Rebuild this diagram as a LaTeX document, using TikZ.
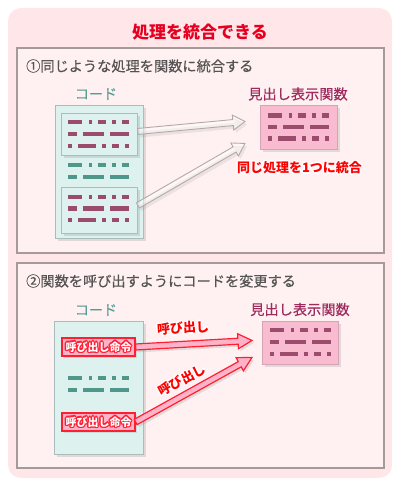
\documentclass[tikz,border=0pt]{standalone}
\usepackage{fontspec}
\setmainfont{Noto Sans CJK JP}
\newfontfamily\jpmed{Noto Sans CJK JP}[FakeBold=0.35]
\usetikzlibrary{calc,shadows}
\definecolor{outerbg}{HTML}{FFE6E9}
\definecolor{panelbg}{HTML}{FFF1F1}
\definecolor{panelborder}{HTML}{A59A9A}
\definecolor{titlered}{HTML}{E60020}
\definecolor{headgray}{HTML}{555353}
\definecolor{tealtext}{HTML}{5A9C94}
\definecolor{codebg}{HTML}{DDF1EF}
\definecolor{codeborder}{HTML}{A9BDBA}
\definecolor{maroon}{HTML}{9B4C6D}
\definecolor{tealdash}{HTML}{4F968B}
\definecolor{funcbg}{HTML}{F8BBD0}
\definecolor{funcborder}{HTML}{D7A3B6}
\definecolor{functitle}{HTML}{9E2B5E}
\definecolor{callfill}{HTML}{FFB3C8}
\definecolor{callred}{HTML}{FF1F33}
\definecolor{ghostline}{HTML}{B3A9A9}

\newcommand\dashrowA[3]{%
  \foreach \a/\b in {0/14,21/24,30/38,44/48,54/61}
    \fill[#3] (#1+\a,#2-2.2) rectangle (#1+\b,#2+2.2);}
\newcommand\dashrowB[3]{%
  \foreach \a/\b in {0/9,15/36,42/61}
    \fill[#3] (#1+\a,#2-2.2) rectangle (#1+\b,#2+2.2);}
\newcommand\dashrowC[3]{%
  \foreach \a/\b in {0/4,10/28,34/38,44/51,57/61}
    \fill[#3] (#1+\a,#2-2.2) rectangle (#1+\b,#2+2.2);}

% block arrow: style, from, to, half shaft, half head, head length
\newcommand\barrow[6]{%
  \coordinate (hb) at ($(#3)!#6!(#2)$);
  \path[#1] ($(#2)!#4!90:(#3)$) -- ($(hb)!#4!-90:(#2)$) -- ($(hb)!#5!-90:(#2)$)
    -- (#3) -- ($(hb)!#5!90:(#2)$) -- ($(hb)!#4!90:(#2)$) -- ($(#2)!#4!-90:(#3)$) -- cycle;}

% outlined text: name, position, options, halo colour, text colour, text
\newcommand\halotext[6]{%
  \foreach \ang in {0,45,...,315}
    \node[#3, text=#4] at ($(#2)+(\ang:1.3pt)$) {#6};
  \node[#3, text=#5] (#1) at (#2) {#6};}

\begin{document}
\begin{tikzpicture}[x=1pt,y=-1pt,
  panel/.style={draw=panelborder, line width=2pt, fill=panelbg},
  heading/.style={text=headgray, font=\jpmed\fontsize{14.2}{15}\selectfont, anchor=west, inner sep=0},
  codelabel/.style={text=tealtext, font=\jpmed\fontsize{14}{15}\selectfont, inner sep=0},
  funclabel/.style={text=functitle, font=\jpmed\fontsize{14.2}{15}\selectfont, inner sep=0},
  boxshadow/.style={drop shadow={shadow xshift=2.5pt, shadow yshift=-2.5pt, opacity=.22, fill=gray}},
  codebox/.style={draw=codeborder, line width=0.9pt, fill=codebg, anchor=north west, inner sep=0, boxshadow},
  innerbox/.style={draw=codeborder, line width=0.9pt, fill=codebg, anchor=north west, inner sep=0, boxshadow},
  funcbox/.style={draw=funcborder, line width=0.9pt, fill=funcbg, anchor=north west, inner sep=0, boxshadow},
  callbox/.style={draw=callred, line width=1.3pt, fill=callfill, inner sep=0, minimum width=73pt, minimum height=18pt,
    drop shadow={shadow xshift=2pt, shadow yshift=-2pt, opacity=.2, fill=gray}},
  ghostarrow/.style={draw=ghostline, line width=0.9pt, fill=white, fill opacity=0.45,
    drop shadow={shadow xshift=2pt, shadow yshift=-3pt, opacity=.15, fill=gray}},
  redarrow/.style={draw=callred, line width=1.2pt, fill=callfill, line join=miter,
    drop shadow={shadow xshift=2pt, shadow yshift=-2.5pt, opacity=.2, fill=gray}},
  calltxt/.style={font=\bfseries\fontsize{11}{12}\selectfont, inner sep=0},
  redtxt/.style={font=\bfseries\fontsize{13}{14}\selectfont, inner sep=0},
]
\useasboundingbox (0,0) rectangle (400,486);
\fill[outerbg, rounded corners=13pt] (8,8) rectangle (392,478);
\node[text=titlered, font=\bfseries\fontsize{17}{18}\selectfont, inner sep=0] (title) at (200,32) {処理を統合できる};

% ---------------- panel 1
\draw[panel] (17,48) rectangle (384,253);
\node[heading] (head1) at (26,66) {①同じような処理を関数に統合する};
\node[codelabel] (cl1) at (96,94) {コード};
\node[codebox, minimum width=88pt, minimum height=133pt] (code1) at (55,105) {};
\node[innerbox, minimum width=76pt, minimum height=42pt] (in1) at (61,113) {};
\node[innerbox, minimum width=76pt, minimum height=46pt] (in2) at (61,187) {};
\dashrowA{68}{122}{maroon}
\dashrowB{68}{134}{maroon}
\dashrowC{68}{146}{maroon}
\dashrowA{68}{165}{tealdash}
\dashrowB{68}{177}{tealdash}
\dashrowA{68}{197}{maroon}
\dashrowB{68}{208.5}{maroon}
\dashrowC{68}{220}{maroon}

\node[funclabel] (fl1) at (298,94) {見出し表示関数};
\node[funcbox, minimum width=77pt, minimum height=44pt] (func1) at (260,105) {};
\dashrowA{268}{115.5}{maroon}
\dashrowB{268}{127}{maroon}
\dashrowC{268}{138.5}{maroon}

\coordinate (a1s) at ([yshift=3pt]in1.east);
\coordinate (a1e) at ([xshift=-15pt,yshift=6pt]func1.west);
\coordinate (a2s) at ([yshift=5pt]in2.east);
\coordinate (a2e) at ([xshift=-15pt,yshift=-16pt]func1.west);
\barrow{ghostarrow}{a1s}{a1e}{3pt}{7.5pt}{12pt}
\barrow{ghostarrow}{a2s}{a2e}{3pt}{7.5pt}{12pt}

\halotext{merge}{299.5,168}{redtxt}{white}{red}{同じ処理を1つに統合}

% ---------------- panel 2
\draw[panel] (17,263) rectangle (384,468);
\node[heading] (head2) at (26,281) {②関数を呼び出すようにコードを変更する};
\node[codelabel] (cl2) at (96,310) {コード};
\node[codebox, minimum width=89pt, minimum height=133pt] (code2) at (54,321) {};
\dashrowA{68}{378}{tealdash}
\dashrowB{68}{390}{tealdash}

\node[funclabel] (fl2) at (300,309.5) {見出し表示関数};
\node[funcbox, minimum width=76pt, minimum height=43pt] (func2) at (262,321) {};
\dashrowA{270}{330}{maroon}
\dashrowB{270}{342}{maroon}
\dashrowC{270}{354}{maroon}

\node[callbox] (call1) at (98.5,347) {};
\node[callbox] (call2) at (98.5,422) {};
\halotext{c1t}{98.5,347}{calltxt}{callred}{white}{呼び出し命令}
\halotext{c2t}{98.5,422}{calltxt}{callred}{white}{呼び出し命令}

\coordinate (r1e) at ([xshift=-10pt,yshift=2.5pt]func2.west);
\coordinate (r2e) at ([xshift=-10pt,yshift=-14.5pt]func2.west);
\barrow{redarrow}{call1.east}{r1e}{3pt}{7.5pt}{14pt}
\barrow{redarrow}{call2.east}{r2e}{3pt}{7.5pt}{14pt}

\halotext{call1lab}{183,328}{redtxt, rotate=3.4}{white}{red}{呼び出し}
\halotext{call2lab}{182,380}{redtxt, rotate=28}{white}{red}{呼び出し}
\end{tikzpicture}
\end{document}
